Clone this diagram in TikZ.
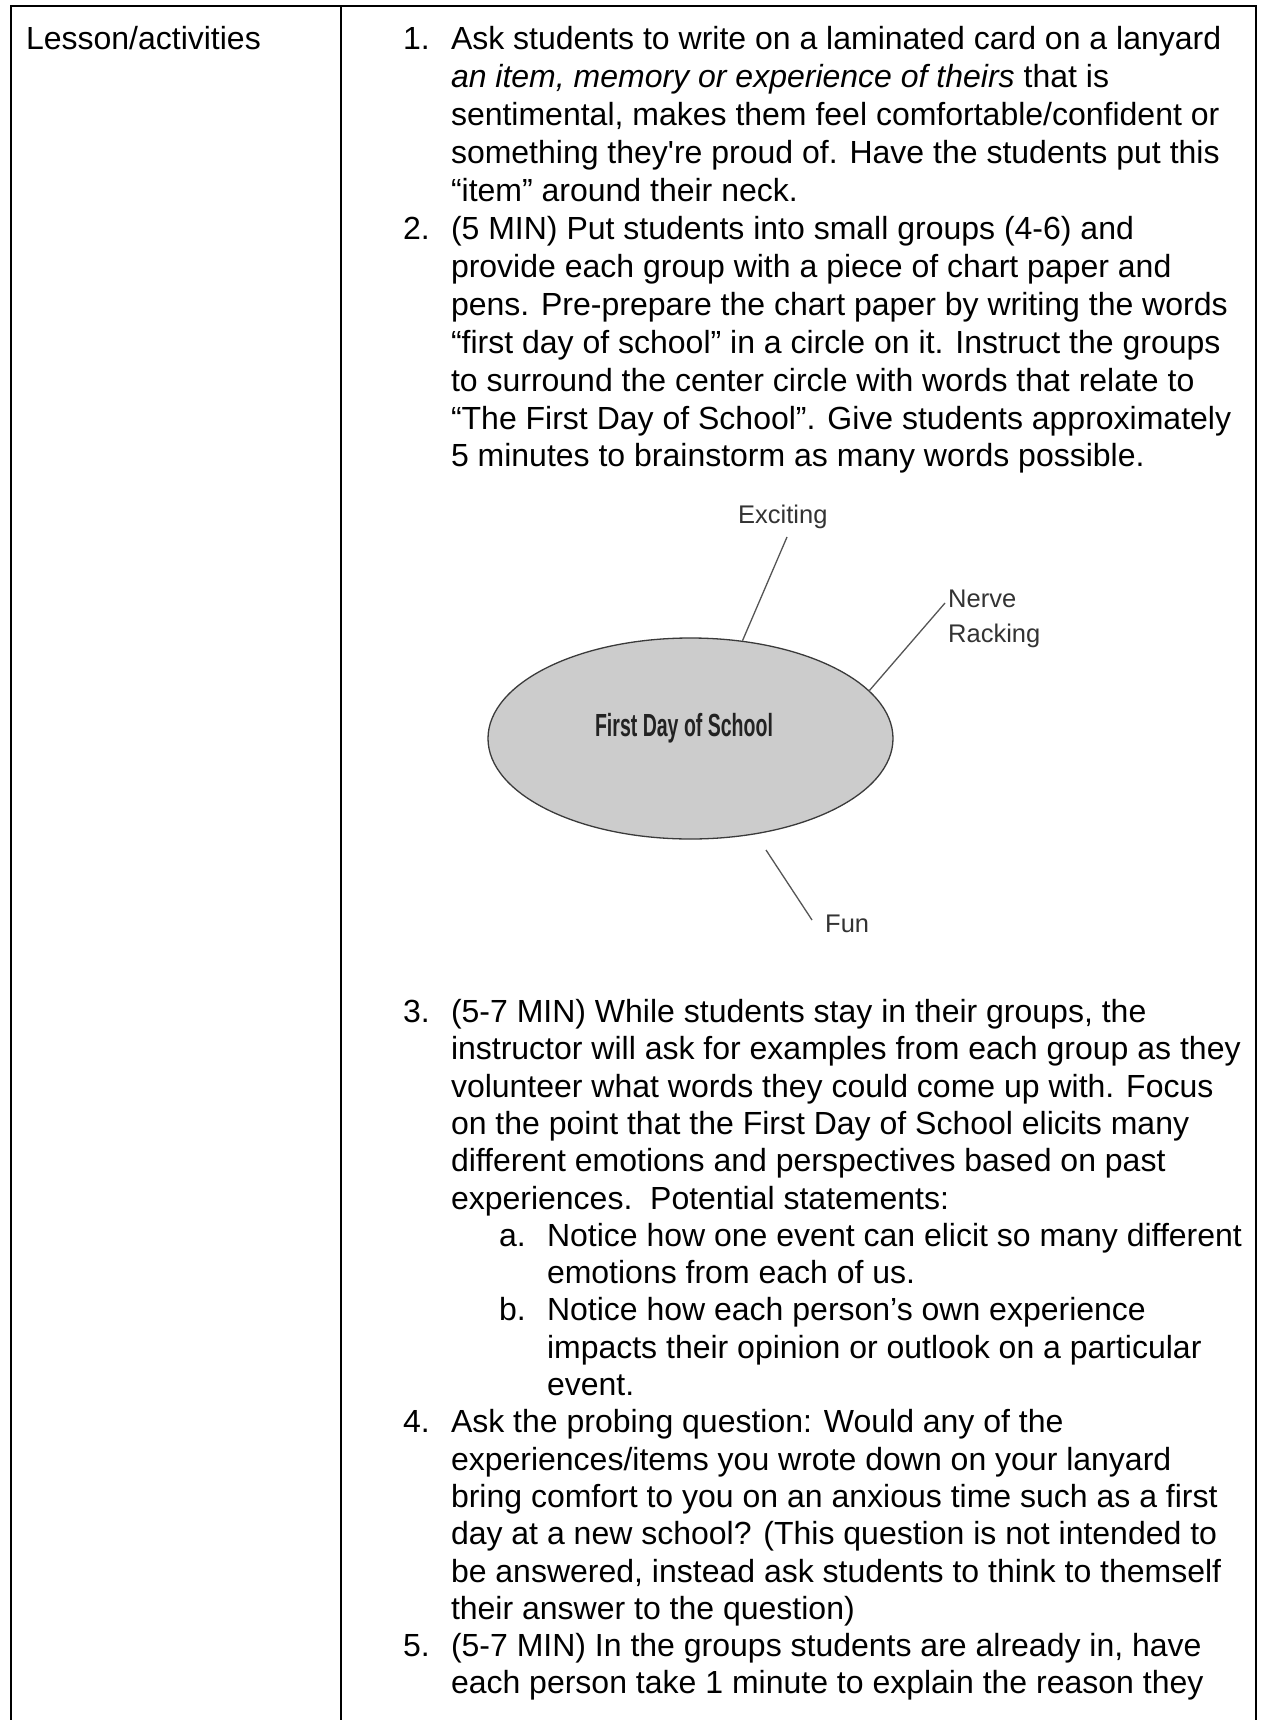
\documentclass[tikz,border=0pt]{standalone}
\usepackage{fontspec}
\usepackage{graphicx}
\setmainfont{Liberation Sans}
\usetikzlibrary{shapes.geometric}
\definecolor{lblgray}{HTML}{333333}
\definecolor{spokegray}{HTML}{555555}
\definecolor{ellgray}{HTML}{3A3A3A}
\definecolor{ellfill}{HTML}{CCCCCC}
\definecolor{fdsgray}{HTML}{222222}
\begin{document}
\begin{tikzpicture}[x=1pt,y=-1pt,
  txt/.style={font=\fontsize{32}{37.5}\selectfont, anchor=base west, inner sep=0pt, outer sep=0pt},
  lbl/.style={font=\fontsize{25.5}{30}\selectfont, text=lblgray, anchor=base west, inner sep=0pt},
  tablerule/.style={line width=2pt, black},
  spoke/.style={draw=spokegray, line width=1.3pt},
]
\useasboundingbox (0,0) rectangle (1261,1720);
\fill[white] (0,0) rectangle (1261,1720);
% table
\draw[tablerule] (11,1721) -- (11,6) -- (1256,6) -- (1256,1721);
\draw[tablerule] (341,6) -- (341,1721);
\node[txt] (head) at (26,50) {Lesson/activities};
% item 1
\node[txt] (n1) at (403,50) {1.};
\node[txt] (a1) at (451,50) {Ask students to write on a laminated card on a lanyard};
\node[txt] (a2) at (451,87.9) {{\itshape an item, memory or experience of theirs} that is};
\node[txt] (a3) at (451,125.8) {sentimental, makes them feel comfortable/confident or};
\node[txt] (a4) at (451,163.7) {something they\textquotesingle re proud of. Have the students put this};
\node[txt] (a5) at (451,201.6) {“item” around their neck.};
% item 2
\node[txt] (n2) at (403,239.5) {2.};
\node[txt] (b1) at (451,239.5) {(5 MIN) Put students into small groups (4-6) and};
\node[txt] (b2) at (451,277.4) {provide each group with a piece of chart paper and};
\node[txt] (b3) at (451,315.3) {pens. Pre-prepare the chart paper by writing the words};
\node[txt] (b4) at (451,353.2) {“first day of school” in a circle on it. Instruct the groups};
\node[txt] (b5) at (451,391.1) {to surround the center circle with words that relate to};
\node[txt] (b6) at (451,429) {“The First Day of School”. Give students approximately};
\node[txt] (b7) at (451,466.9) {5 minutes to brainstorm as many words possible.};
% diagram
\node[ellipse, draw=ellgray, fill=ellfill, line width=1.3pt, minimum width=405pt, minimum height=201pt, inner sep=0pt] (fds) at (690.5,738.5) {};
\node[anchor=base, inner sep=0pt, font=\fontsize{32}{32}\selectfont\bfseries, text=fdsgray] (fdstxt) at (684,736) {\scalebox{0.61}[1]{First Day of School}};
\node[lbl] (exciting) at (738,523) {Exciting};
\node[lbl] (nerve) at (948,607) {Nerve};
\node[lbl] (racking) at (948,642) {Racking};
\node[lbl] (fun) at (825,932) {Fun};
\coordinate (exEnd) at (787,537);
\coordinate (nvEnd) at (945,603);
\coordinate (fnA) at (766,850);
\coordinate (fnB) at (812,920);
\draw[spoke] (exEnd) -- (fds.62.4);
\draw[spoke] (nvEnd) -- (fds.15.9);
\draw[spoke] (fnA) -- (fnB);
% item 3
\node[txt] (n3) at (403,1022.5) {3.};
\node[txt] (c1) at (451,1022.5) {(5-7 MIN) While students stay in their groups, the};
\node[txt] (c2) at (451,1059.8) {instructor will ask for examples from each group as they};
\node[txt] (c3) at (451,1097.1) {volunteer what words they could come up with. Focus};
\node[txt] (c4) at (451,1134.4) {on the point that the First Day of School elicits many};
\node[txt] (c5) at (451,1171.7) {different emotions and perspectives based on past};
\node[txt] (c6) at (451,1209) {experiences.\ \ Potential statements:};
\node[txt] (sa) at (499,1246.3) {a.};
\node[txt] (d1) at (547,1246.3) {Notice how one event can elicit so many different};
\node[txt] (d2) at (547,1283.6) {emotions from each of us.};
\node[txt] (sb) at (499,1320.9) {b.};
\node[txt] (e1) at (547,1320.9) {Notice how each person’s own experience};
\node[txt] (e2) at (547,1358.2) {impacts their opinion or outlook on a particular};
\node[txt] (e3) at (547,1395.5) {event.};
% item 4
\node[txt] (n4) at (403,1432.8) {4.};
\node[txt] (f1) at (451,1432.8) {Ask the probing question: Would any of the};
\node[txt] (f2) at (451,1470.1) {experiences/items you wrote down on your lanyard};
\node[txt] (f3) at (451,1507.4) {bring comfort to you on an anxious time such as a first};
\node[txt] (f4) at (451,1544.7) {day at a new school? (This question is not intended to};
\node[txt] (f5) at (451,1582) {be answered, instead ask students to think to themself};
\node[txt] (f6) at (451,1619.3) {their answer to the question)};
% item 5
\node[txt] (n5) at (403,1656.6) {5.};
\node[txt] (g1) at (451,1656.6) {(5-7 MIN) In the groups students are already in, have};
\node[txt] (g2) at (451,1693.9) {each person take 1 minute to explain the reason they};
\end{tikzpicture}
\end{document}
